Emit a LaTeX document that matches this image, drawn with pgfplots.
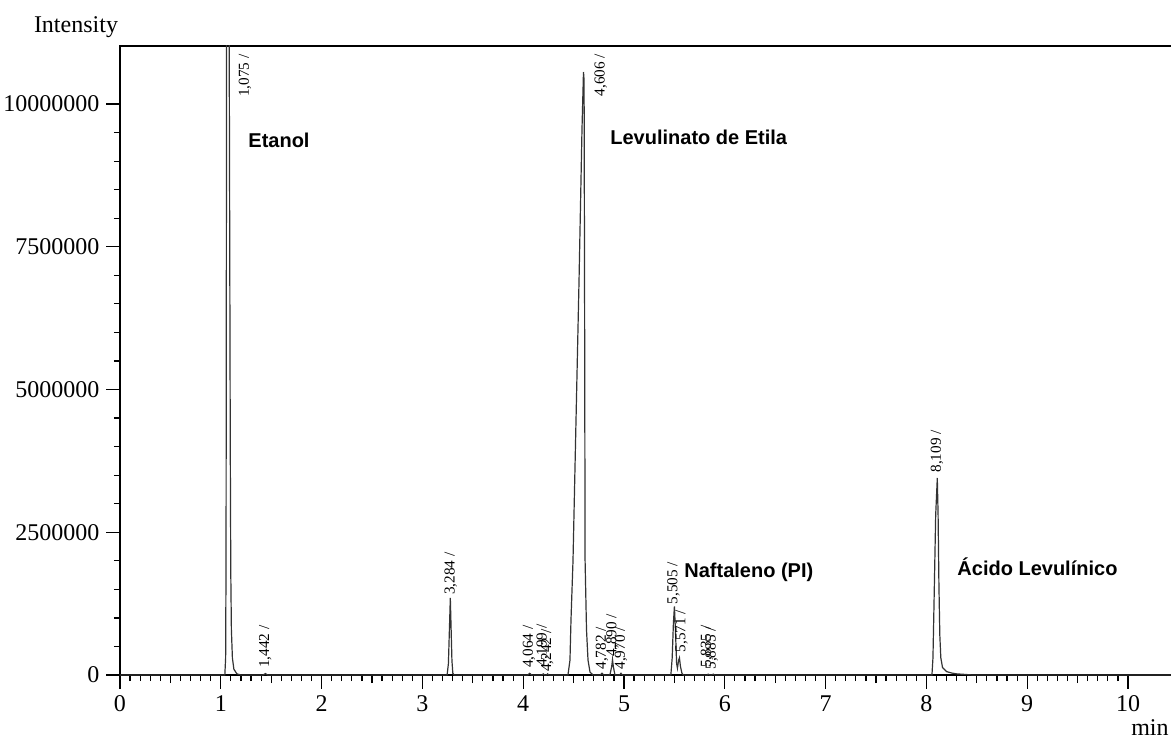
\documentclass[border=0pt]{standalone}
\usepackage{fontspec}
\setmainfont{Liberation Serif}
\newfontfamily\lsans{Liberation Sans}
\usepackage{pgfplots}
\pgfplotsset{compat=1.18}
\usetikzlibrary{calc}

\pgfplotstableread{
t I
0 0
1.040 0
1.048 3e5
1.052 2e6
1.058 1.2e7
1.070 3e7
1.082 1.2e7
1.094 4e6
1.099 1.8e6
1.105 8e5
1.115 3e5
1.130 1e5
1.160 2e4
1.200 0
1.420 0
1.442 2.5e4
1.465 0
3.245 0
3.258 2e5
3.268 8e5
3.277 1.35e6
3.285 8e5
3.293 2.5e5
3.302 3e4
3.315 0
4.045 0
4.064 3e4
4.085 0
4.185 0
4.199 2e4
4.215 0
4.230 0
4.242 2e4
4.255 0
4.444 0
4.464 2.6e5
4.474 9.6e5
4.494 2.0e6
4.524 4.47e6
4.554 6.92e6
4.583 9.54e6
4.598 1.056e7
4.604 1.042e7
4.609 6.57e6
4.614 2.0e6
4.628 7.9e5
4.643 2.6e5
4.663 5e4
4.692 0
4.765 0
4.782 3e4
4.800 0
4.860 0
4.878 1.5e5
4.886 2.7e5
4.894 1.5e5
4.910 0
4.955 0
4.970 3e4
4.985 0
5.465 0
5.478 3e5
5.490 9e5
5.500 1.2e6
5.510 8e5
5.522 2e5
5.530 1.2e5
5.542 2.6e5
5.550 3.0e5
5.560 1.5e5
5.575 3e4
5.590 0
5.825 0
5.835 1.5e4
5.850 0
5.870 0
5.885 1.5e4
5.900 0
8.055 0
8.065 3e5
8.075 1.2e6
8.092 2.8e6
8.108 3.45e6
8.116 2.8e6
8.124 1.6e6
8.133 7e5
8.143 3e5
8.160 1.3e5
8.200 6e4
8.250 3.5e4
8.300 2e4
8.400 8e3
8.460 0
10.5 0
}\chrom

\begin{document}
\begin{tikzpicture}
\begin{axis}[
    name=ax,
    scale only axis,
    width=529.2pt, height=314.5pt,
    xmin=0, xmax=10.5,
    ymin=0, ymax=11016000,
    xtick={0,1,...,10},
    minor x tick num=9,
    extra x ticks={0.5,1.5,...,10.5},
    extra x tick labels={},
    extra x tick style={major tick length=4pt},
    ytick={0,2500000,5000000,7500000,10000000},
    minor y tick num=4,
    tick pos=left,
    tick align=outside,
    major tick length=6.8pt,
    minor tick length=3pt,
    every tick/.style={black, line width=0.6pt},
    scaled y ticks=false,
    yticklabel style={/pgf/number format/fixed, /pgf/number format/precision=0, /pgf/number format/1000 sep={}},
    /pgf/number format/assume math mode=true,
    ticklabel style={font=\fontsize{12}{14}\selectfont},
    axis line style={black, line width=0.8pt},
]
\addplot[black!80, line width=0.6pt] table[x=t, y=I] {\chrom};

\begin{scope}[every node/.style={rotate=90, anchor=west, inner sep=0pt, font=\fontsize{7.6}{9}\selectfont, text=black}]
\node at (axis cs:1.240,10120000) {1,075 /};
\node at (axis cs:1.440,120000) {1,442 /};
\node at (axis cs:3.281,1400000) {3,284 /};
\node at (axis cs:4.058,120000) {4,064 /};
\node at (axis cs:4.193,140000) {4,199 /};
\node at (axis cs:4.238,50000) {4,242 /};
\node at (axis cs:4.770,10130000) {4,606 /};
\node at (axis cs:4.782,90000) {4,782 /};
\node at (axis cs:4.885,320000) {4,890 /};
\node at (axis cs:4.970,90000) {4,970 /};
\node at (axis cs:5.490,1230000) {5,505 /};
\node at (axis cs:5.570,390000) {5,571 /};
\node at (axis cs:5.822,120000) {5,835 /};
\node at (axis cs:5.870,90000) {5,885 /};
\node at (axis cs:8.105,3540000) {8,109 /};
\end{scope}

\begin{scope}[every node/.style={anchor=west, inner sep=0pt, font=\lsans\bfseries\fontsize{10}{12}\selectfont}]
\node at (axis cs:1.270,9370000) {Etanol};
\node at (axis cs:4.861,9420000) {Levulinato de Etila};
\node at (axis cs:5.595,1800000) {Naftaleno (PI)};
\node at (axis cs:8.304,1890000) {Ácido Levulínico};
\end{scope}
\end{axis}
\node[inner sep=0pt, font=\fontsize{12}{14}\selectfont] at ($(ax.north west)+(-22pt,9.5pt)$) {Intensity};
\node[inner sep=0pt, anchor=base east, font=\fontsize{12}{14}\selectfont] at ($(ax.south west)+(524.5pt,-30pt)$) {min};
\pgfresetboundingbox
\path[use as bounding box] ($(ax.south west)+(-60pt,-32.5pt)$) rectangle ($(ax.south west)+(525.5pt,337.5pt)$);
\end{tikzpicture}
\end{document}
